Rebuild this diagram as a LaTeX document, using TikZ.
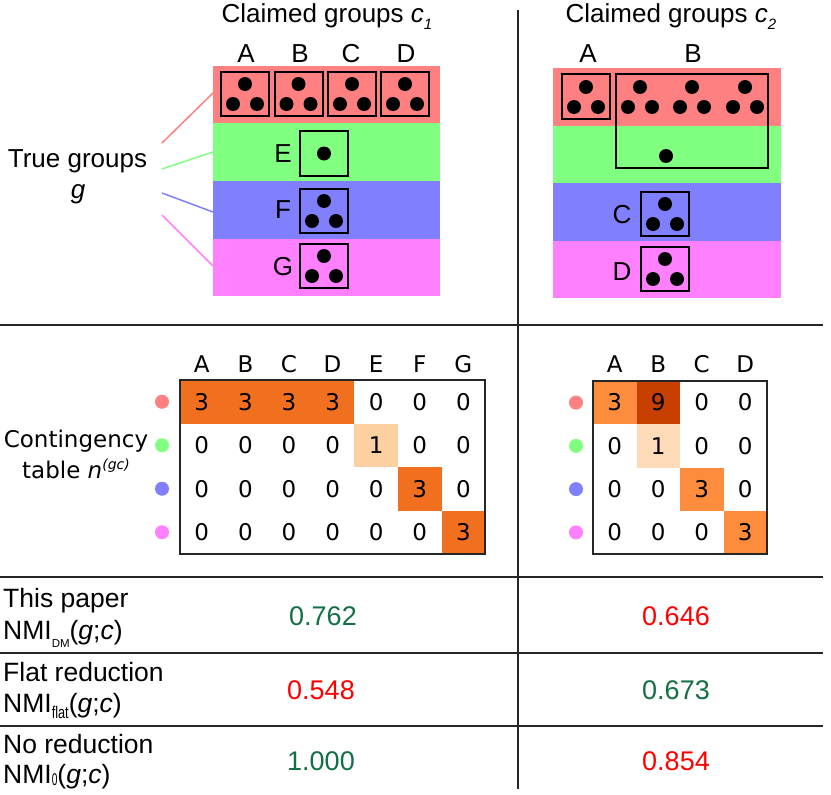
\documentclass[tikz,border=0pt]{standalone}
\usepackage{graphicx}
\usepackage{fontspec}
\setmainfont{Liberation Sans}
\newfontfamily\dvfont{DejaVu Sans}
\definecolor{bred}{HTML}{FF8080}
\definecolor{bgreen}{HTML}{80FF80}
\definecolor{bblue}{HTML}{8080FF}
\definecolor{bmag}{HTML}{FF80FF}
\definecolor{orA}{HTML}{F07020}
\definecolor{orB}{HTML}{FDD0A2}
\definecolor{roA}{HTML}{FD8D3C}
\definecolor{roB}{HTML}{C84000}
\definecolor{roC}{HTML}{FDDBB9}
\definecolor{good}{HTML}{137046}
\definecolor{bad}{HTML}{FF0000}
\newcommand\trio[2]{\fill (#1,#2-10) circle[radius=7pt] (#1-12,#2+10) circle[radius=7pt] (#1+12,#2+10) circle[radius=7pt];}
\begin{document}
\begin{tikzpicture}[x=1pt,y=-1pt,
  T/.style={font=\fontsize{26}{30}\selectfont, inner sep=0pt, anchor=base},
  M/.style={font=\dvfont\fontsize{23}{27}\selectfont, inner sep=0pt},
  grp/.style={draw=black, line width=2pt, inner sep=0pt},
  divl/.style={line width=2pt, draw=black!85},
  lk/.style={line width=1.5pt},
  rdot/.style={circle, inner sep=0pt, minimum size=14pt}]
\useasboundingbox[fill=white] (0,0) rectangle (831,795);

% ---------- top left panel ----------
\fill[bred]   (213,66)  rectangle (440,123);
\fill[bgreen] (213,123) rectangle (440,181);
\fill[bblue]  (213,181) rectangle (440,239);
\fill[bmag]   (213,239) rectangle (440,296);
\coordinate (bl1) at (213,93);
\coordinate (bl2) at (213,152);
\coordinate (bl3) at (213,212);
\coordinate (bl4) at (213,266);

\node[T] (t1) at (327,23) {Claimed groups \textit{c}\raisebox{-7pt}{\fontsize{15}{16}\selectfont\itshape 1}};
\foreach \l/\x in {A/246,B/300,C/351,D/406}
  \node[T] (lc\l) at (\x,62) {\l};

\foreach \n/\x in {A/245,B/298.5,C/352,D/405}{
  \node[grp, minimum width=48pt, minimum height=44pt] (b1\n) at (\x,94) {};
  \trio{\x}{94}
}
\node[grp, minimum width=48pt, minimum height=45pt] (b1E) at (324,153.5) {};
\fill (324,153.5) circle[radius=7pt];
\node[grp, minimum width=48pt, minimum height=44pt] (b1F) at (324,211) {};
\trio{324}{211}
\node[grp, minimum width=48pt, minimum height=44pt] (b1G) at (324,266) {};
\trio{324}{266}
\node[T] (lE) at (283,162) {E};
\node[T] (lF) at (283,218) {F};
\node[T] (lG) at (283,275) {G};

\node[T] (tg) at (77.5,167) {True groups};
\node[T] (tgg) at (78,198) {\textit{g}};
\coordinate (s1) at (162,143);
\coordinate (s2) at (162,169);
\coordinate (s3) at (162,193);
\coordinate (s4) at (162,215);
\draw[lk, bred]   (s1) -- (bl1);
\draw[lk, bgreen] (s2) -- (bl2);
\draw[lk, bblue]  (s3) -- (bl3);
\draw[lk, bmag]   (s4) -- (bl4);

% ---------- top right panel ----------
\fill[bred]   (553,68)  rectangle (781,126);
\fill[bgreen] (553,126) rectangle (781,183);
\fill[bblue]  (553,183) rectangle (781,241);
\fill[bmag]   (553,241) rectangle (781,298);

\node[T] (t2) at (671,23) {Claimed groups \textit{c}\raisebox{-7pt}{\fontsize{15}{16}\selectfont\itshape 2}};
\node[T] (rA) at (588,62) {A};
\node[T] (rB) at (693,62) {B};

\node[grp, minimum width=48pt, minimum height=45pt] (b2A) at (586,96.5) {};
\trio{586}{97}
\node[grp, minimum width=152pt, minimum height=94pt] (b2B) at (692,121) {};
\trio{640}{97}
\trio{692}{97}
\trio{745}{97}
\fill (666,156) circle[radius=7pt];
\node[grp, minimum width=48pt, minimum height=44pt] (b2C) at (665,214) {};
\trio{665}{214}
\node[grp, minimum width=48pt, minimum height=44pt] (b2D) at (665,269) {};
\trio{665}{269}
\node[T] (rC) at (622,223) {C};
\node[T] (rD) at (622,280) {D};

% ---------- dividers ----------
\coordinate (hl) at (0,325);   \coordinate (hr) at (823,325);
\coordinate (vt) at (518,10);  \coordinate (vb) at (518,789);
\coordinate (h1l) at (0,577);  \coordinate (h1r) at (823,577);
\coordinate (h2l) at (0,653);  \coordinate (h2r) at (823,653);
\coordinate (h3l) at (0,726);  \coordinate (h3r) at (823,726);
\draw[divl] (hl) -- (hr);
\draw[divl] (h1l) -- (h1r);
\draw[divl] (h2l) -- (h2r);
\draw[divl] (h3l) -- (h3r);
\draw[divl] (vt) -- (vb);

% ---------- contingency tables ----------
\node[M, anchor=base] (ct1) at (76,447) {Contingency};
\node[M, anchor=base] (ct2) at (76,478) {table \textit{n}\raisebox{9pt}{\fontsize{14}{15}\selectfont\itshape (gc)}};

% left matrix
\fill[orA] (180,380) rectangle (354.4,423.5);
\fill[orB] (354.4,423.5) rectangle (398,467);
\fill[orA] (398,467) rectangle (441.6,510.5);
\fill[orA] (441.6,510.5) rectangle (485,554);
\foreach \l [count=\i from 0] in {A,B,C,D,E,F,G}
  \node[M, anchor=base] (lh\l) at (201.8+43.6*\i,372) {\l};
\foreach \row [count=\j from 0] in {{3,3,3,3,0,0,0},{0,0,0,0,1,0,0},{0,0,0,0,0,3,0},{0,0,0,0,0,0,3}}{
  \foreach \v [count=\i from 0] in \row
    \node[M] (L\j\i) at (201.8+43.6*\i,401.75+43.5*\j) {\v};
}
\draw[line width=1.8pt, black!85] (180,380) rectangle (485,554);
\node[rdot, fill=bred]   (ld0) at (162,401.75) {};
\node[rdot, fill=bgreen] (ld1) at (162,445.25) {};
\node[rdot, fill=bblue]  (ld2) at (162,488.75) {};
\node[rdot, fill=bmag]   (ld3) at (162,532.25) {};

% right matrix
\fill[roA] (593,381) rectangle (636.5,424.25);
\fill[roB] (636.5,381) rectangle (680,424.25);
\fill[roC] (636.5,424.25) rectangle (680,467.5);
\fill[roA] (680,467.5) rectangle (723.5,510.75);
\fill[roA] (723.5,510.75) rectangle (767,554);
\foreach \l [count=\i from 0] in {A,B,C,D}
  \node[M, anchor=base] (rh\l) at (614.75+43.5*\i,372) {\l};
\foreach \row [count=\j from 0] in {{3,9,0,0},{0,1,0,0},{0,0,3,0},{0,0,0,3}}{
  \foreach \v [count=\i from 0] in \row
    \node[M] (R\j\i) at (614.75+43.5*\i,402.6+43.25*\j) {\v};
}
\draw[line width=1.8pt, black!85] (593,381) rectangle (767,554);
\node[rdot, fill=bred]   (rd0) at (576,402.6) {};
\node[rdot, fill=bgreen] (rd1) at (576,445.9) {};
\node[rdot, fill=bblue]  (rd2) at (576,489.1) {};
\node[rdot, fill=bmag]   (rd3) at (576,532.4) {};

% ---------- scores ----------
\begin{scope}[every node/.style={font=\fontsize{26.5}{30}\selectfont, inner sep=0pt, anchor=base west}]
\node (p1) at (3,607) {This paper};
\node (p2) at (3,639) {NMI\raisebox{-8pt}{\fontsize{11.5}{12}\selectfont DM}(\textit{g};\textit{c})};
\node (f1) at (3,681) {Flat reduction};
\node (f2) at (3,712) {NMI\raisebox{-6pt}{\scalebox{0.75}[1]{\fontsize{17}{18}\selectfont flat}}(\textit{g};\textit{c})};
\node (n1) at (3,753) {No reduction};
\node (n2) at (3,783) {NMI\raisebox{-2pt}{\scalebox{0.6}[1]{\fontsize{17}{18}\selectfont 0}}(\textit{g};\textit{c})};
\end{scope}
\begin{scope}[every node/.style={font=\fontsize{27}{30}\selectfont, inner sep=0pt, anchor=base}]
\node[text=good] (v11) at (323,625) {0.762};
\node[text=bad]  (v12) at (676,625) {0.646};
\node[text=bad]  (v21) at (321,699) {0.548};
\node[text=good] (v22) at (676,699) {0.673};
\node[text=good] (v31) at (321,770) {1.000};
\node[text=bad]  (v32) at (676,770) {0.854};
\end{scope}
\end{tikzpicture}
\end{document}
